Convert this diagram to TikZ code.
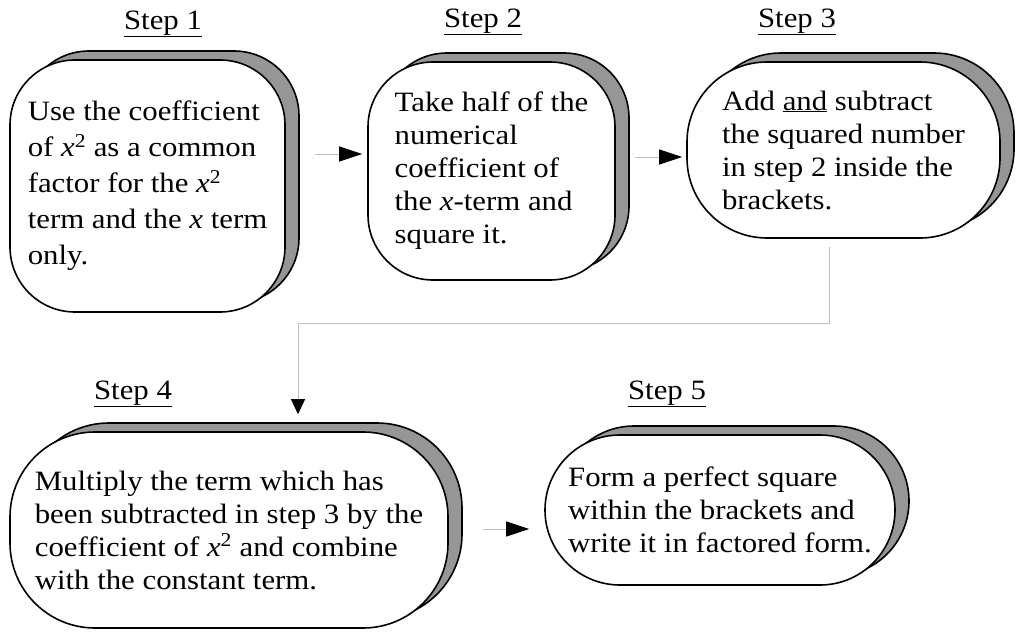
\documentclass[tikz,border=0pt]{standalone}
\usepackage{fontspec}
\setmainfont{Liberation Serif}[FakeStretch=1.1]
\usetikzlibrary{arrows.meta,shadows,calc}
\definecolor{shadowgray}{RGB}{150,150,150}
\definecolor{flowgray}{RGB}{190,190,190}
\newcommand{\xvar}{\textit{x}}
\newcommand{\xsqr}{\textit{x}\textsuperscript{2}}

\begin{document}
\begin{tikzpicture}[x=1pt,y=-1pt,
  stepbox/.style={draw,line width=1.6pt,fill=white,align=left,inner sep=0pt,
    font=\fontsize{28}{33}\selectfont,
    general shadow={shadow xshift=14pt,shadow yshift=9pt,fill=shadowgray,
      draw=black,line width=1.6pt}},
  steplabel/.style={font=\fontsize{28}{30}\selectfont},
  flow/.style={draw=flowgray,line width=0.8pt,
    -{Triangle[length=23pt,width=15pt,color=black]}}]
 \useasboundingbox (0,0) rectangle (1016,631);
 % step titles
 \node[steplabel] (l1) at (163,24) {\underline{Step 1}};
 \node[steplabel] (l2) at (483,22) {\underline{Step 2}};
 \node[steplabel] (l3) at (797,22) {\underline{Step 3}};
 \node[steplabel] (l4) at (133,394) {\underline{Step 4}};
 \node[steplabel] (l5) at (667,394) {\underline{Step 5}};
 % boxes
 \node[stepbox,minimum width=275pt,minimum height=252pt,rounded corners=65pt,
   font=\fontsize{28}{36}\selectfont] (s1) at (147.5,186)
   {Use the coefficient\\ of \xsqr{} as a common\\ factor for the \xsqr\\
    term and the \xvar{} term\\ only.};
 \node[stepbox,minimum width=247pt,minimum height=218pt,rounded corners=65pt]
   (s2) at (491.5,171)
   {Take half of the\\ numerical\\ coefficient of\\ the \xvar-term and\\ square it.};
 \node[stepbox,minimum width=313pt,minimum height=176pt,rounded corners=80pt]
   (s3) at (843.5,150)
   {Add \underline{and} subtract\\ the squared number\\ in step 2 inside the\\ brackets.};
 \node[stepbox,minimum width=438pt,minimum height=196pt,rounded corners=85pt]
   (s4) at (229,530)
   {Multiply the term which has\\ been subtracted in step 3 by the\\
    coefficient of \xsqr{} and combine\\ with the constant term.};
 \node[stepbox,minimum width=350pt,minimum height=150pt,rounded corners=75pt]
   (s5) at (720,510)
   {Form a perfect square\\ within the brackets and\\ write it in factored form.};
 % connectors
 \coordinate (a12) at (315,154);
 \coordinate (a23) at (635,157);
 \coordinate (a34) at (829,247);
 \coordinate (b34) at (298,323);
 \coordinate (a45) at (483,529);
 \draw[flow,shorten >=5pt] (a12) -- (a12 -| s2.west);
 \draw[flow,shorten >=4pt] (a23) -- (a23 -| s3.west);
 \draw[flow,shorten >=17pt,-{Triangle[length=15pt,width=14pt,color=black]}]
   (a34) |- (b34) -- (b34 |- s4.north);
 \draw[flow,shorten >=15pt] (a45) -- (a45 -| s5.west);
\end{tikzpicture}
\end{document}
